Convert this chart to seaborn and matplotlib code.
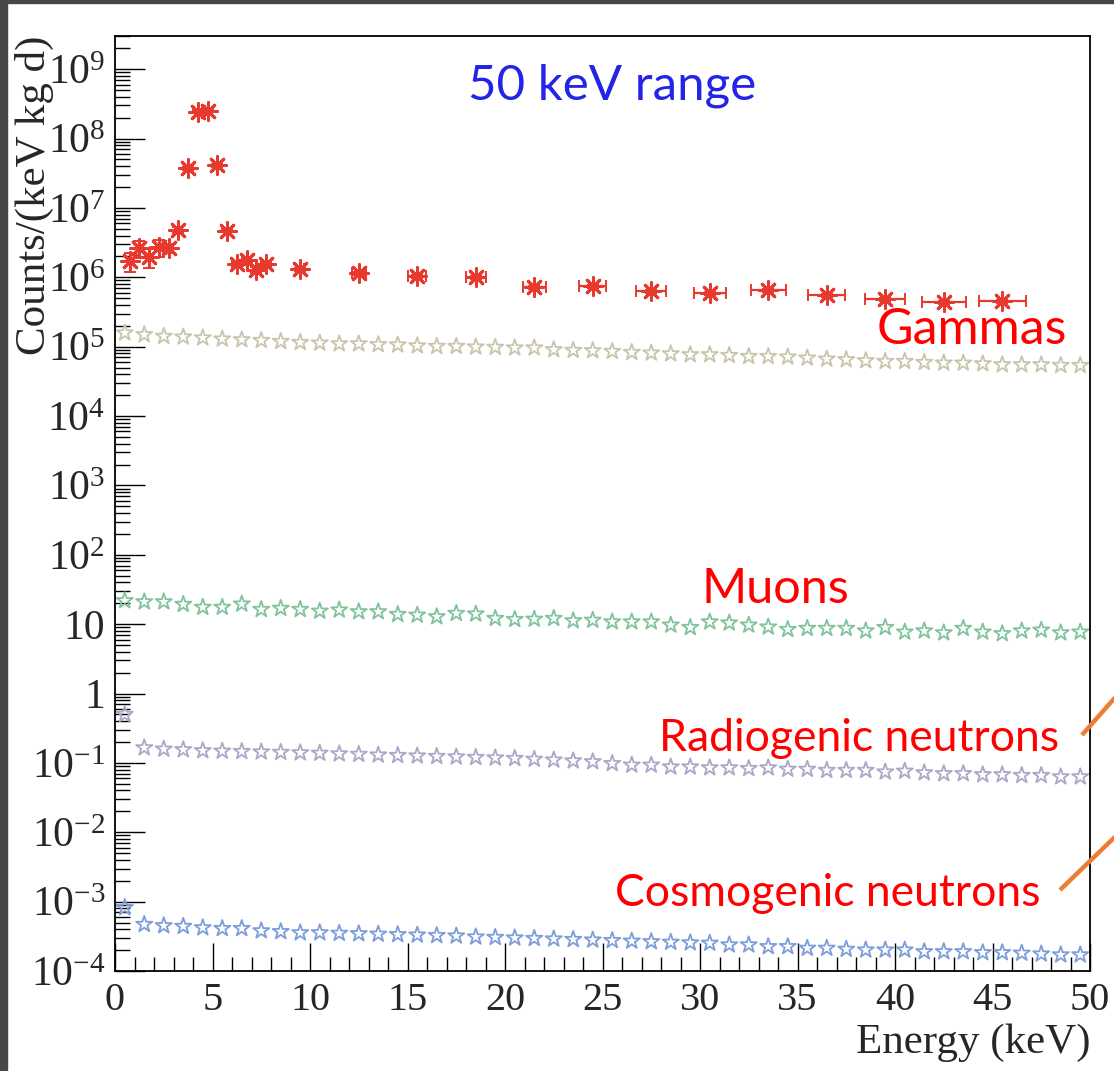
import numpy as np
import matplotlib
matplotlib.use("Agg")
import matplotlib.pyplot as plt
import seaborn as sns
from matplotlib.lines import Line2D
from matplotlib.patches import Rectangle
from matplotlib.ticker import FixedLocator, LogLocator, FuncFormatter, MultipleLocator, NullFormatter

# ---------------- data ----------------
energy_bins = [0.5 + i for i in range(50)]

gamma_bkg = [1.58e5, 1.49e5, 1.41e5, 1.38e5, 1.34e5, 1.29e5, 1.26e5, 1.23e5, 1.19e5, 1.15e5,
             1.13e5, 1.10e5, 1.10e5, 1.07e5, 1.06e5, 1.03e5, 1.01e5, 1.01e5, 9.9e4, 9.8e4,
             9.6e4, 9.6e4, 9.06e4, 8.84e4, 8.75e4, 8.55e4, 8.27e4, 8.1e4, 7.9e4, 7.66e4,
             7.66e4, 7.48e4, 7.23e4, 7.23e4, 7.1e4, 6.86e4, 6.64e4, 6.49e4, 6.27e4, 6.13e4,
             6.13e4, 5.92e4, 5.8e4, 5.8e4, 5.67e4, 5.49e4, 5.49e4, 5.49e4, 5.36e4, 5.36e4]

muons = [21.8, 21.0, 21.0, 19.3, 17.5, 17.5, 19.5, 16.3, 16.9, 16.3,
         15.4, 16.0, 15.1, 15.1, 13.8, 13.5, 12.8, 14.3, 14.0, 12.1,
         11.7, 11.8, 12.1, 11.2, 11.4, 10.8, 10.8, 10.8, 9.7, 8.96,
         10.8, 10.4, 9.7, 9.1, 8.4, 8.7, 8.7, 8.7, 8.0, 8.96,
         7.7, 8.0, 7.5, 8.7, 7.7, 7.3, 8.0, 8.2, 7.5, 7.7]

radiogenic = [0.50, 0.165, 0.158, 0.155, 0.150, 0.148, 0.146, 0.144, 0.142, 0.140,
              0.138, 0.135, 0.133, 0.130, 0.128, 0.126, 0.124, 0.122, 0.120, 0.118,
              0.116, 0.113, 0.110, 0.107, 0.104, 0.098, 0.093, 0.093, 0.0875, 0.0875,
              0.085, 0.085, 0.083, 0.085, 0.081, 0.081, 0.078, 0.078, 0.078, 0.074,
              0.076, 0.072, 0.070, 0.070, 0.0676, 0.0676, 0.066, 0.066, 0.063, 0.063]

cosmogenic = [8.2e-4, 4.7e-4, 4.5e-4, 4.4e-4, 4.2e-4, 4.1e-4, 4.1e-4, 3.8e-4, 3.7e-4, 3.56e-4,
              3.56e-4, 3.5e-4, 3.45e-4, 3.4e-4, 3.35e-4, 3.3e-4, 3.25e-4, 3.2e-4, 3.1e-4, 3.05e-4,
              3.0e-4, 2.95e-4, 2.9e-4, 2.85e-4, 2.8e-4, 2.75e-4, 2.7e-4, 2.65e-4, 2.6e-4, 2.55e-4,
              2.52e-4, 2.38e-4, 2.38e-4, 2.25e-4, 2.25e-4, 2.13e-4, 2.13e-4, 2.06e-4, 2.01e-4, 2.01e-4,
              2.01e-4, 1.9e-4, 1.9e-4, 1.9e-4, 1.84e-4, 1.84e-4, 1.81e-4, 1.76e-4, 1.71e-4, 1.71e-4]

gamma_E = [0.75, 1.25, 1.75, 2.25, 2.75, 3.25, 3.75, 4.25, 4.75, 5.25, 5.75, 6.25, 6.75, 7.25, 7.75,
           9.5, 12.5, 15.5, 18.5, 21.5, 24.5, 27.5, 30.5, 33.5, 36.5, 39.5, 42.5, 45.5]
gamma_counts = [1.7e6, 2.6e6, 1.95e6, 2.7e6, 2.6e6, 4.8e6, 3.7e7, 2.45e8, 2.5e8, 4.1e7, 4.7e6,
                1.55e6, 1.8e6, 1.26e6, 1.55e6, 1.3e6, 1.14e6, 1.03e6, 1.0e6, 7.2e5, 7.4e5, 6.3e5,
                5.9e5, 6.5e5, 5.5e5, 4.8e5, 4.35e5, 4.5e5]
gamma_xerr = [0, 0, 0, 0, 0, 0, 0, 0, 0, 0, 0, 0, 0, 0, 0,
              0.2, 0.35, 0.45, 0.5, 0.6, 0.68, 0.76, 0.83, 0.9, 0.96, 1.02, 1.12, 1.2]
gamma_yerr_rel = [0.3, 0.27, 0.3, 0.27, 0.15, 0.1, 0.05, 0.05, 0.05, 0.05, 0.05, 0.08, 0.08, 0.1, 0.08,
                  0.05, 0.05, 0.05, 0.05, 0.05, 0.05, 0.05, 0.05, 0.05, 0.05, 0.05, 0.05, 0.05]

ytick_exponents = list(range(-4, 10))

# ---------------- style ----------------
sns.set_style("ticks")
plt.rcParams['font.family'] = ['Liberation Serif', 'DejaVu Serif']
plt.rcParams['mathtext.fontset'] = 'custom'
plt.rcParams['mathtext.rm'] = 'Liberation Serif'
plt.rcParams['mathtext.it'] = 'Liberation Serif:italic'

W, H = 1114, 1071
fig = plt.figure(figsize=(W / 100, H / 100), dpi=100)
fig.patch.set_facecolor('white')
ax = fig.add_axes([115 / W, 1 - 971 / H, 975 / W, 935 / H])
ax.set_facecolor('white')

star_series = [
    (gamma_bkg, '#c9c5ad'),
    (muons, '#80c49c'),
    (radiogenic, '#a9a9c9'),
    (cosmogenic, '#7d9edb'),
]
for vals, col in star_series:
    sns.scatterplot(x=energy_bins, y=vals, ax=ax, marker='*', s=150, legend=False)
    coll = ax.collections[-1]
    coll.set_facecolor('none')
    coll.set_edgecolor(col)
    coll.set_linewidth(1.3)

gc = np.array(gamma_counts)
yerr = np.array(gamma_yerr_rel) * gc
ax.errorbar(gamma_E, gamma_counts, xerr=gamma_xerr, yerr=yerr, fmt='none',
            ecolor='#e8392f', elinewidth=1.6, capsize=4, capthick=1.4, zorder=3)
sns.scatterplot(x=gamma_E, y=gamma_counts, ax=ax, marker=(8, 2, 0), s=170,
                color='#e8392f', linewidth=2.0, legend=False, zorder=4)
ax.collections[-1].set_edgecolor('#e8392f')

ax.set_yscale('log')
ax.set_xlim(0, 50)
ax.set_ylim(1e-4, 10 ** 9.478)


def yfmt(v, pos):
    e = int(round(np.log10(v)))
    if e == 0:
        return '1'
    if e == 1:
        return '10'
    return r'$\mathregular{10^{%d}}$' % e


ax.yaxis.set_major_locator(FixedLocator([10.0 ** e for e in ytick_exponents]))
ax.yaxis.set_major_formatter(FuncFormatter(yfmt))
ax.yaxis.set_minor_locator(LogLocator(base=10, subs=np.arange(2, 10), numticks=100))
ax.yaxis.set_minor_formatter(NullFormatter())
ax.xaxis.set_major_locator(MultipleLocator(5))
ax.xaxis.set_minor_locator(MultipleLocator(1))

ax.tick_params(axis='both', which='both', direction='in', top=False, right=False,
               color='black', width=1.0)
ax.tick_params(axis='y', which='major', length=21.6, labelsize=30, pad=7)
ax.tick_params(axis='y', which='minor', length=10.8)
ax.tick_params(axis='x', which='major', length=20, labelsize=29, pad=8)
ax.tick_params(axis='x', which='minor', length=10)
for sp in ax.spines.values():
    sp.set_visible(True)
    sp.set_color('black')
    sp.set_linewidth(1.3)

ax.set_ylabel('Counts/(keV kg d)', fontsize=31, loc='top', labelpad=0)
ax.yaxis.set_label_coords(-0.063, 1.0)
ax.set_xlabel('Energy (keV)', fontsize=31, loc='right', labelpad=0)
ax.xaxis.set_label_coords(1.0, -0.056)

# annotations
sans = ['Lato', 'DejaVu Sans']
red = '#ff0000'
fig.text(468 / W, 1 - 100 / H, '50 keV range', color='#2424e6', fontsize=35.5, family=sans,
         ha='left', va='baseline')
fig.text(877 / W, 1 - 344 / H, 'Gammas', color=red, fontsize=36, family=sans, ha='left', va='baseline')
fig.text(702 / W, 1 - 603 / H, 'Muons', color=red, fontsize=35, family=sans, ha='left', va='baseline')
fig.text(659 / W, 1 - 751 / H, 'Radiogenic neutrons', color=red, fontsize=32, family=sans,
         ha='left', va='baseline')
fig.text(615 / W, 1 - 906 / H, 'Cosmogenic neutrons', color=red, fontsize=32, family=sans,
         ha='left', va='baseline')

orange = '#ed7d31'
fig.add_artist(Line2D([1082 / W, 1120 / W], [1 - 735 / H, 1 - 692 / H], color=orange, lw=3.2,
                      solid_capstyle='butt'))
fig.add_artist(Line2D([1060 / W, 1120 / W], [1 - 890 / H, 1 - 832 / H], color=orange, lw=3.2,
                      solid_capstyle='butt'))

# screenshot frame
fig.add_artist(Rectangle((0, 0), 7 / W, 1, transform=fig.transFigure, color='#474747', zorder=10))
fig.add_artist(Rectangle((0, 1 - 3 / H), 1, 3 / H, transform=fig.transFigure, color='#474747', zorder=10))

fig.savefig('out.png', dpi=100)
